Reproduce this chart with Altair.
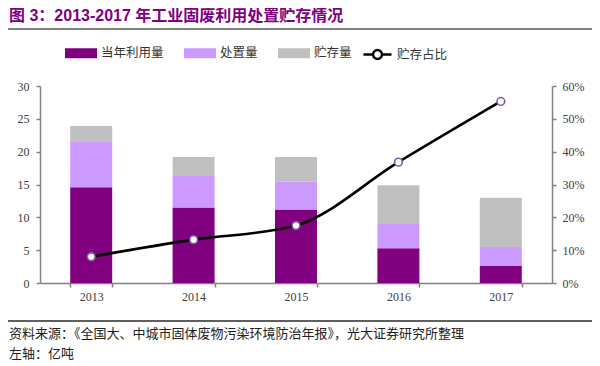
import altair as alt
import pandas as pd

# ---- data ----
years = ["2013", "2014", "2015", "2016", "2017"]
utilized = [14.6, 11.5, 11.2, 5.3, 2.6]      # 当年利用量 (亿吨)
disposed = [7.0, 4.9, 4.2, 3.7, 2.9]         # 处置量
stored = [2.3, 2.8, 3.8, 5.9, 7.5]           # 贮存量
stored_ratio = [0.080, 0.132, 0.175, 0.368, 0.553]  # 贮存占比

series_names = ["当年利用量", "处置量", "贮存量"]
series_colors = ["#800080", "#CC99FF", "#C0C0C0"]
line_name = "贮存占比"
left_ticks = [0, 5, 10, 15, 20, 25, 30]
right_ticks = [0, 0.1, 0.2, 0.3, 0.4, 0.5, 0.6]

title_text = "图 3：2013-2017 年工业固废利用处置贮存情况"
source_text = "资料来源：《全国大、中城市固体废物污染环境防治年报》，光大证券研究所整理"
unit_text = "左轴：亿吨"

# ---- tables ----
rows = []
for i, y in enumerate(years):
    for k, (name, vals) in enumerate(zip(series_names, [utilized, disposed, stored])):
        rows.append({"year": y, "series": name, "value": vals[i], "order": k})
bars_df = pd.DataFrame(rows)
line_df = pd.DataFrame({"year": years, "ratio": stored_ratio, "name": [line_name] * len(years)})

CJK = "Noto Sans CJK SC"
SERIF = "Liberation Serif"
AXIS_GREY = "#808080"

x_axis = alt.Axis(title=None, labelAngle=0, tickBand="extent", tickSize=4, labelPadding=4)
x_scale = alt.Scale(paddingInner=0.59, paddingOuter=0.295)

def x_enc():
    return alt.X("year:N", sort=years, scale=x_scale, axis=x_axis)

bars = alt.Chart(bars_df).mark_bar().encode(
    x=x_enc(),
    y=alt.Y("value:Q", stack="zero",
            scale=alt.Scale(domain=[0, 30], nice=False),
            axis=alt.Axis(title=None, values=left_ticks, tickSize=4, labelPadding=7)),
    color=alt.Color("series:N",
                    scale=alt.Scale(domain=series_names, range=series_colors),
                    legend=alt.Legend(title=None, orient="none", legendX=25, legendY=-49,
                                      direction="horizontal",
                                      symbolType="M-1,-0.3125H1V0.3125H-1Z",
                                      symbolSize=1024, symbolStrokeWidth=0,
                                      symbolOpacity=1,
                                      labelFont=CJK, labelFontSize=12.5, labelColor="#333333",
                                      labelOffset=4, columnPadding=20)),
    order=alt.Order("order:Q"),
)

right_axis = alt.Axis(title=None, orient="right", values=right_ticks, format=".0%",
                      tickSize=4, labelPadding=6)
right_scale = alt.Scale(domain=[0, 0.6], nice=False)

line = alt.Chart(line_df).mark_line(strokeWidth=2.6, interpolate="monotone").encode(
    x=x_enc(),
    y=alt.Y("ratio:Q", scale=right_scale, axis=right_axis),
    stroke=alt.Stroke("name:N", scale=alt.Scale(domain=[line_name], range=["#000000"]),
                      legend=alt.Legend(title=None, orient="none", legendX=322, legendY=-47,
                                        symbolType="M-1,0H-0.32M0.32,0H1M-0.32,0A0.32,0.32,0,1,1,0.32,0A0.32,0.32,0,1,1,-0.32,0Z",
                                        symbolSize=784, symbolStrokeWidth=2.4,
                                        symbolFillColor="white",
                                        labelFont=CJK, labelFontSize=12.5, labelColor="#333333",
                                        labelOffset=4)),
)

points = alt.Chart(line_df).mark_point(filled=True, fill="white", stroke="#7B5DA6",
                                      strokeWidth=1.6, size=60, opacity=1).encode(
    x=x_enc(),
    y=alt.Y("ratio:Q", scale=right_scale, axis=right_axis),
)

one = pd.DataFrame({"t": [source_text], "u": [unit_text]})

top_rule = alt.Chart(one).mark_rule(stroke="#555555", strokeWidth=1.6, opacity=1).encode(
    x=alt.value(-32), x2=alt.value(552), y=alt.value(-57))
bottom_rule = alt.Chart(one).mark_rule(stroke="#5f5f5f", strokeWidth=2.2, opacity=1).encode(
    x=alt.value(-32), x2=alt.value(552), y=alt.value(235))
source = alt.Chart(one).mark_text(align="left", baseline="middle", font=CJK, fontSize=13,
                                  color="#222222").encode(
    x=alt.value(-31), y=alt.value(248), text="t:N")
unit = alt.Chart(one).mark_text(align="left", baseline="middle", font=CJK, fontSize=13,
                                color="#222222").encode(
    x=alt.value(-31), y=alt.value(268), text="u:N")

chart = alt.layer(
    bars, alt.layer(line, points), top_rule, bottom_rule, source, unit
).resolve_scale(y="independent").properties(
    width=512, height=197,
    autosize="none",
    padding={"left": 32, "top": 78, "right": 40, "bottom": 82},
    title=alt.TitleParams(text=title_text, anchor="start", frame="group",
                          font="Liberation Sans, " + CJK, fontSize=16, fontWeight="bold",
                          color="#800080", dx=-31, offset=4),
).configure_axis(
    domainColor=AXIS_GREY, domainWidth=1.5, tickColor=AXIS_GREY, tickWidth=1.5,
    labelFont=SERIF, labelFontSize=12, labelColor="#404040", grid=False,
).configure_view(stroke=None)

chart.save("out.html", embed_options={"renderer": "svg", "actions": False})
